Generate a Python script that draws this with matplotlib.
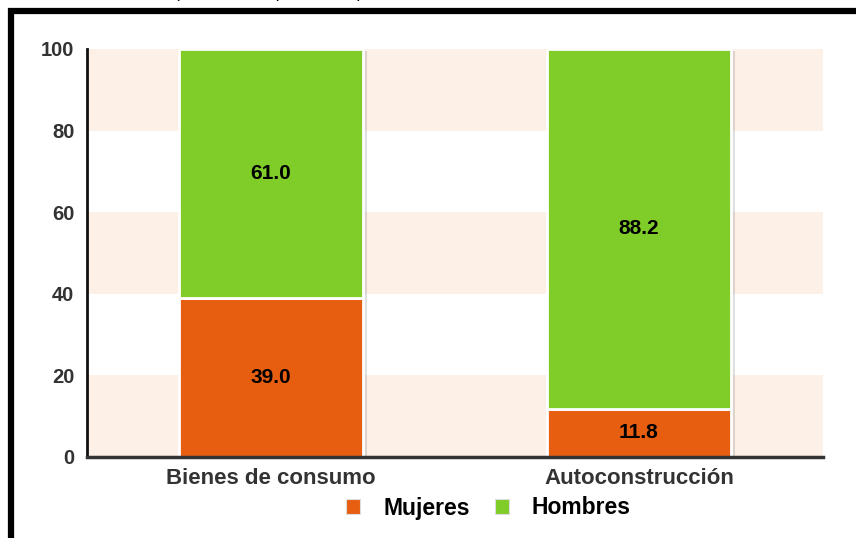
import matplotlib.pyplot as plt
import matplotlib.patches as mpatches
import numpy as np

plt.rcParams['font.family'] = ['Liberation Sans', 'DejaVu Sans']

categories = ['Bienes de consumo', 'Autoconstrucción']
mujeres = [39.0, 11.8]
hombres = [61.0, 88.2]
series_names = ['Mujeres', 'Hombres']
colors = ['#E85E10', '#80CC28']
yticks = [0, 20, 40, 60, 80, 100]

fig = plt.figure(figsize=(8.56, 5.38), dpi=100)
ax = fig.add_axes([87 / 856, 81 / 538, 736 / 856, 408 / 538])

x = np.arange(len(categories))

# alternating background bands
for lo in range(0, 100, 40):
    ax.axhspan(lo, lo + 20, color='#FDF0E6', zorder=0, lw=0)

# shadows to the right of bars
for xi, (m, h) in enumerate(zip(mujeres, hombres)):
    ax.bar(xi + 0.012, m + h, width=0.5, bottom=-0.6, color='#000000', alpha=0.12, zorder=1, lw=0)

ax.bar(x, mujeres, width=0.5, color=colors[0], edgecolor='white', lw=2, zorder=2)
ax.bar(x, hombres, width=0.5, bottom=mujeres, color=colors[1], edgecolor='white', lw=2, zorder=2)

for xi, (m, h) in enumerate(zip(mujeres, hombres)):
    ax.text(xi, m / 2, f'{m:.1f}', ha='center', va='center', fontsize=15, fontweight='bold', zorder=3)
    ax.text(xi, m + h / 2, f'{h:.1f}', ha='center', va='center', fontsize=15, fontweight='bold', zorder=3)

ax.set_xlim(-0.5, 1.5)
ax.set_ylim(0, 100)
ax.set_yticks(yticks)
ax.set_xticks(x)
ax.set_xticklabels(categories)
ax.tick_params(length=0, labelsize=14.5, labelcolor='#333333')
ax.tick_params(axis='y', pad=9)
ax.tick_params(axis='x', pad=8, labelsize=16)
for lab in ax.get_xticklabels() + ax.get_yticklabels():
    lab.set_fontweight('bold')

for s in ['top', 'right']:
    ax.spines[s].set_visible(False)
ax.spines['left'].set_linewidth(2)
ax.spines['left'].set_color('#111111')
ax.spines['bottom'].set_linewidth(2.5)
ax.spines['bottom'].set_color('#333333')

handles = [mpatches.Patch(facecolor=c, edgecolor='#dddddd', lw=0.8) for c in colors]
fig.legend(handles, series_names, loc='center', bbox_to_anchor=(0.5707, 30 / 538), ncol=2,
           frameon=False, handlelength=0.6, handleheight=0.6, columnspacing=1.1,
           handletextpad=1.0, prop={'weight': 'bold', 'size': 16.5})

# partially visible subtitle and frame
fig.text(268 / 856, 1.004, '(Distribución porcentual)', ha='center', va='baseline', fontsize=12.5)
frame = mpatches.Rectangle((10.5 / 856, -0.2), 1.2, (538 - 10.5) / 538 + 0.2,
                           transform=fig.transFigure, fill=False, lw=4.5, ec='black', clip_on=False)
fig.patches.append(frame)

fig.savefig('out.png', dpi=100)
